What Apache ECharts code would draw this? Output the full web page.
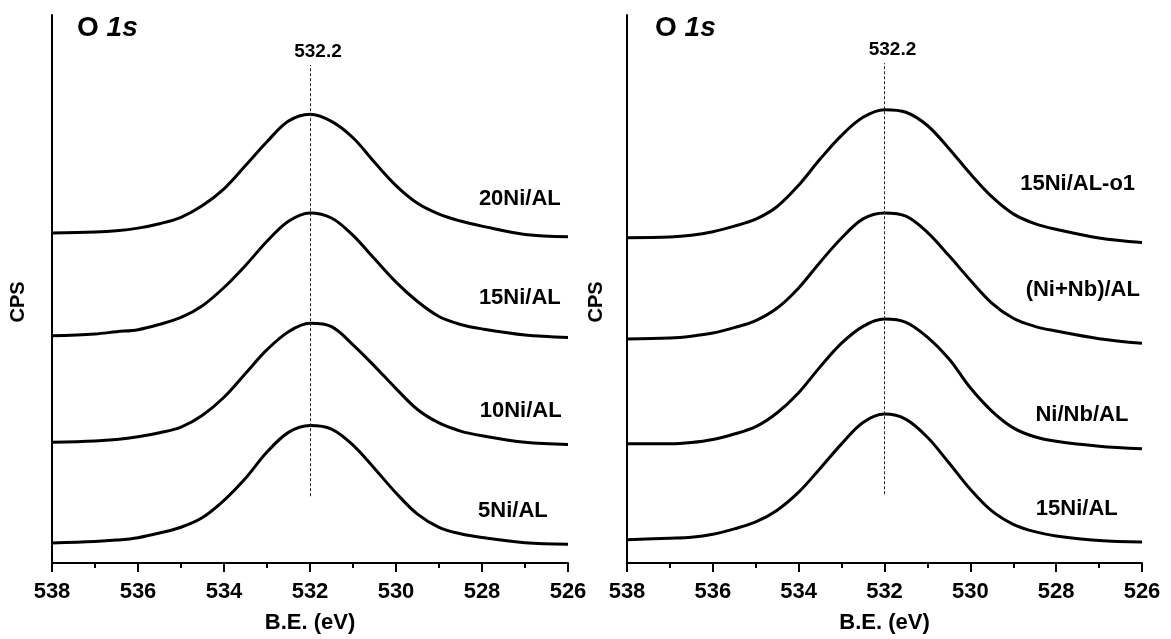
<!DOCTYPE html>
<html><head><meta charset="utf-8">
<script src="https://cdn.jsdelivr.net/npm/echarts@6/dist/echarts.min.js"></script>
<style>html,body{margin:0;padding:0;background:#fff}#c{width:1171px;height:639px}</style>
</head><body><div id="c"></div>
<script>
// Binding energy grid (eV)
const energies = [538,537,536.5,536,535.5,535,534.5,534,533.5,533,532.5,532,531.5,531,530.5,530,529.5,529,528.5,528,527,526];
const xTickLabels = [538,536,534,532,530,528,526];

// Left panel (stacked, arbitrary CPS units)
const s20NiAL = [336,337,338.3,341,345.5,352,364,381,404.7,429,450,457,449.7,433,408,384.3,366.3,355.3,348.2,343,334.6,332.3];
const s15NiAL = [231.3,233.2,235.5,237.6,243,250,262,280.5,303,327.6,348,356.5,351.3,333.6,309.7,286,266.3,251,242.9,238.4,232.2,229.7];
const s10NiAL = [123,124.3,125.8,128.5,132.6,138.4,150.5,168.8,193,217.2,235.5,244,240.7,222.2,200.5,177.6,156.3,142.6,134.3,129.5,122.9,120.7];
const s5NiAL  = [20.3,21.8,23.3,25.8,30.5,36.4,46.3,63.8,86.3,113,133,140,136.4,120.1,96.3,71.3,49.7,36.3,29.7,25.9,20.6,19];

// Right panel
const s15NiALo1 = [331.3,332,333.7,337.3,343,350.1,363,384.7,411.3,435.5,453.8,461.6,459,445.5,422.1,396.3,373,355.5,345.6,339.8,331,326.3];
const sNiNbAL2  = [228,229,230.9,234.1,239.7,246.8,259.6,280.1,306.3,330.9,350.4,356.5,353.2,336.7,313,288,264.7,249.2,241,236.2,228.4,223.7];
const sNiNbAL   = [121.3,121.3,122.6,125.7,131.3,138.8,153,173.4,199.7,223.8,241,248.4,245.1,230,208,178.4,154.7,137.6,128.5,123.9,118.9,116.3];
const s15NiALr  = [23.7,25.2,26.2,29.2,34.7,41.8,53.8,72.1,96.3,121.3,143,151.6,146.3,128,102.1,75.1,53,39.4,31.9,27.6,22.9,21.3];

const leftNames  = ['20Ni/AL','15Ni/AL','10Ni/AL','5Ni/AL'];
const leftData   = [s20NiAL, s15NiAL, s10NiAL, s5NiAL];
const leftLabelPos = [[527.12,371],[527.12,270],[527.1,155],[527.28,53]];
const rightNames = ['15Ni/AL-o1','(Ni+Nb)/AL','Ni/Nb/AL','15Ni/AL'];
const rightData  = [s15NiALo1, sNiNbAL2, sNiNbAL, s15NiALr];
const rightLabelPos = [[527.5,386],[527.38,278],[527.4,151],[527.52,55]];
const refLine = 532.0, refLabel = '532.2';

const FF = '"Liberation Sans", Arial, sans-serif';

function xAxisCfg(idx){
  return {
    gridIndex: idx, type:'value', inverse:true, min:526, max:538, interval:2,
    axisLine:{onZero:false, lineStyle:{color:'#000', width:2}},
    axisTick:{show:true, inside:false, length:9, lineStyle:{color:'#000', width:2}},
    minorTick:{show:true, splitNumber:2, length:5, lineStyle:{color:'#000', width:2}},
    axisLabel:{fontSize:22, fontWeight:'bold', color:'#000', fontFamily:FF, margin:18,
      formatter: v => xTickLabels.includes(v) ? String(v) : ''},
    splitLine:{show:false}, minorSplitLine:{show:false},
    name:'B.E. (eV)', nameLocation:'middle', nameGap:49,
    nameTextStyle:{fontSize:22, fontWeight:'bold', color:'#000', fontFamily:FF}
  };
}
function yAxisCfg(idx){
  return {
    gridIndex: idx, type:'value', min:0, max:558, position:'left',
    axisLine:{show:true, onZero:false, lineStyle:{color:'#000', width:2}},
    axisTick:{show:false}, axisLabel:{show:false}, splitLine:{show:false}
  };
}
function makeSeries(names, datas, labelPos, axisIdx, lineTop, lineBottom){
  return names.map((n,k)=>{
    const s = {
      name:n, type:'line', xAxisIndex:axisIdx, yAxisIndex:axisIdx,
      data: energies.map((e,i)=>[e, datas[k][i]]),
      showSymbol:false, smooth:0.35, silent:true,
      lineStyle:{color:'#000', width:3},
      markPoint:{
        symbol:'circle', symbolSize:0, silent:true,
        data:[{coord:labelPos[k]}],
        label:{show:true, position:'inside', formatter:n, fontSize:22, fontWeight:'bold', color:'#000', fontFamily:FF}
      }
    };
    if(k===0){
      s.markLine = {
        silent:true, symbol:['none','none'],
        lineStyle:{color:'#222', width:1, type:[3,2]},
        label:{show:true, position:'end', formatter:refLabel, fontSize:19, fontWeight:'bold', color:'#000', fontFamily:FF, distance:4, padding:[0,0,0,16]},
        data:[[{coord:[refLine,lineBottom]},{coord:[refLine,lineTop]}]]
      };
    }
    return s;
  });
}

const titleRich = {
  a:{fontSize:28, fontWeight:'bold', color:'#000', fontFamily:FF},
  b:{fontSize:28, fontWeight:'bold', fontStyle:'italic', color:'#000', fontFamily:FF}
};

const chart = echarts.init(document.getElementById('c'), null, {renderer:'canvas'});
chart.setOption({
  animation:false,
  backgroundColor:'#fff',
  title:[
    {text:'{a|O }{b|1s}', left:72, top:9, textStyle:{rich:titleRich}},
    {text:'{a|O }{b|1s}', left:650, top:9, textStyle:{rich:titleRich}}
  ],
  grid:[
    {left:52, right:603, top:15, bottom:66},
    {left:627, right:29, top:15, bottom:66}
  ],
  xAxis:[xAxisCfg(0), xAxisCfg(1)],
  yAxis:[yAxisCfg(0), yAxisCfg(1)],
  graphic:[
    {type:'text', x:18, y:302, rotation:Math.PI/2, style:{text:'CPS', fontSize:20, fontWeight:'bold', fill:'#000', fontFamily:FF, textAlign:'center', textVerticalAlign:'middle'}},
    {type:'text', x:596, y:302, rotation:Math.PI/2, style:{text:'CPS', fontSize:20, fontWeight:'bold', fill:'#000', fontFamily:FF, textAlign:'center', textVerticalAlign:'middle'}}
  ],
  series:[
    ...makeSeries(leftNames, leftData, leftLabelPos, 0, 507, 68),
    ...makeSeries(rightNames, rightData, rightLabelPos, 1, 509, 70)
  ]
});
</script>
</body></html>
